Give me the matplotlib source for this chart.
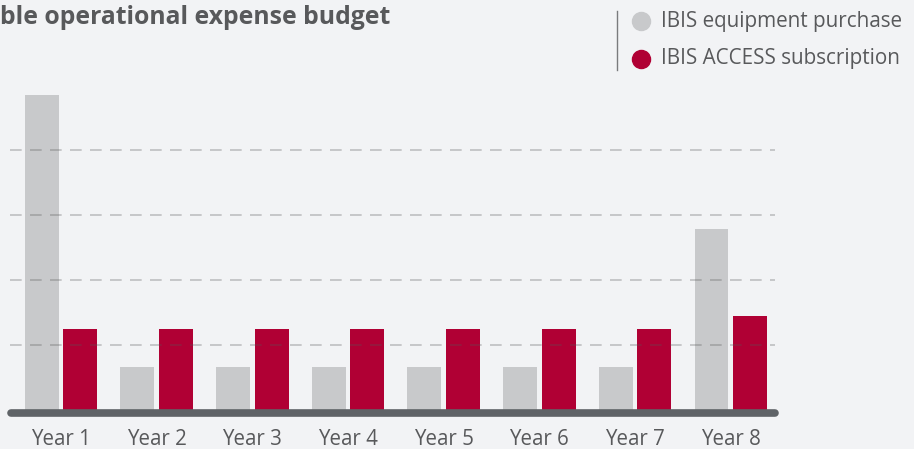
import numpy as np
import matplotlib
matplotlib.use("Agg")
import matplotlib.pyplot as plt
from matplotlib.lines import Line2D

# ==============================
# data
# ==============================
years = ["Year 1", "Year 2", "Year 3", "Year 4", "Year 5", "Year 6", "Year 7", "Year 8"]
equipment = [4.85, 0.66, 0.66, 0.66, 0.66, 0.66, 0.66, 2.78]
access = [1.25, 1.25, 1.25, 1.25, 1.25, 1.25, 1.25, 1.45]
grid_levels = [1, 2, 3, 4]

title = "ble operational expense budget"
legend_labels = ["IBIS equipment purchase", "IBIS ACCESS subscription"]

# ==============================
# style
# ==============================
bg = "#f2f3f5"
gray = "#c8c9cb"
red = "#b00034"
text_col = "#58595b"
base_col = "#5f6367"

plt.rcParams["font.family"] = ["Open Sans", "DejaVu Sans"]

W, H = 914, 449
fig = plt.figure(figsize=(W / 100, H / 100), dpi=100, facecolor=bg)

# axes placed in pixel units
left_px, right_px, top_px, bot_px = 8, 778, 85, 410
ax = fig.add_axes([left_px / W, 1 - bot_px / H, (right_px - left_px) / W, (bot_px - top_px) / H])
ax.set_facecolor(bg)

x = np.arange(len(years))
w = 0.355
off = 0.201
ax.bar(x - off, equipment, width=w, color=gray, zorder=2)
ax.bar(x + off, access, width=w, color=red, zorder=2)

ax.set_xlim(-0.554, 7.494)
ax.set_ylim(0, 5)

# dashed grid over the bars
for g in grid_levels:
    ax.plot([-0.53, 7.46], [g, g], color="#555555", alpha=0.33, lw=1.2,
            dashes=(7, 5), zorder=3)

# thick baseline with round caps
ax.plot([-0.52, 7.46], [-0.045, -0.045], color=base_col, lw=5.5,
        solid_capstyle="round", clip_on=False, zorder=4)

for s in ax.spines.values():
    s.set_visible(False)
ax.set_yticks([])
ax.set_xticks(x)
ax.set_xticklabels(years, fontsize=14.8, color=text_col)
ax.tick_params(axis="x", length=0, pad=14)

# title (cut at the left edge)
fig.text(0 / W, 1 - 18 / H, title, fontsize=17.8, fontweight="bold",
         color=text_col, ha="left", va="center")

# legend
fig.add_artist(Line2D([617 / W, 617 / W], [1 - 11 / H, 1 - 70 / H],
                      color="#7a7b7d", lw=1.0))
for i, (lab, c) in enumerate(zip(legend_labels, [gray, red])):
    yy = 1 - (21 + 37.5 * i) / H
    fig.add_artist(Line2D([641 / W], [yy], marker="o", markersize=13,
                          color=c, linestyle="none"))
    fig.text(661 / W, yy, lab, fontsize=14.9, color=text_col,
             ha="left", va="center")

fig.savefig("out.png", dpi=100, facecolor=bg)
